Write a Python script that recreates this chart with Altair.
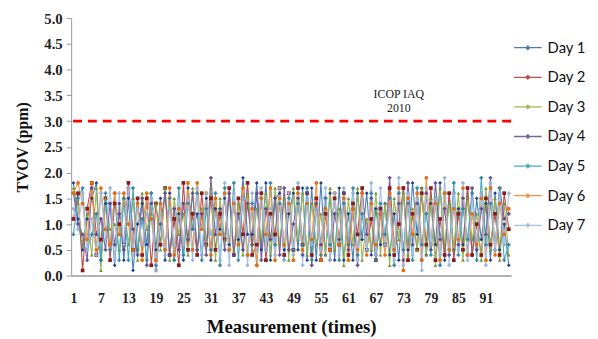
import altair as alt
import pandas as pd

days = ["Day 1", "Day 2", "Day 3", "Day 4", "Day 5", "Day 6", "Day 7"]

day1 = [1.8,1.1,0.5,1.1,1.5,1.8,0.3,1.4,1.4,0.2,1.4,0.3,
        1.5,0.1,1.0,1.4,0.6,1.6,0.5,1.5,0.3,1.6,0.3,1.2,
        0.3,1.7,0.9,1.2,0.4,1.5,0.3,1.3,0.9,1.5,0.6,1.4,
        0.7,1.9,0.8,0.8,1.8,0.5,1.8,0.3,1.5,1.6,0.5,1.2,
        1.6,0.5,1.7,0.3,1.7,0.3,1.8,0.4,1.6,0.3,1.7,0.3,
        1.2,0.3,1.6,0.7,1.6,0.4,1.3,0.6,1.4,0.4,1.2,0.3,
        1.7,0.5,1.8,0.8,1.7,0.4,1.4,0.6,1.8,0.3,1.6,0.5,
        1.3,0.6,1.7,0.4,1.5,0.7,1.4,0.3,1.6,0.5,1.0,0.2]
day2 = [1.1,1.6,0.1,1.3,1.8,0.4,0.7,1.5,0.3,1.4,1.0,0.6,
        1.8,0.5,1.5,0.4,1.5,0.2,1.4,0.6,1.7,0.4,1.1,0.2,
        1.8,0.5,1.2,0.4,1.6,0.6,1.5,0.5,1.2,0.7,1.7,0.4,
        1.5,0.8,1.8,0.4,0.6,1.6,0.3,1.2,0.8,1.7,0.4,1.6,
        0.5,1.7,0.6,1.6,0.4,1.5,0.3,1.2,0.5,1.5,0.6,1.6,
        0.4,1.4,0.8,1.7,0.5,1.1,0.3,1.3,0.6,1.7,0.4,1.0,
        1.7,0.3,1.2,0.5,1.6,0.6,1.7,0.3,1.1,0.4,1.6,0.3,
        1.2,0.5,1.7,0.4,1.0,0.4,1.5,0.6,1.2,0.4,1.6,0.9]
day3 = [1.7,1.4,0.6,1.2,0.4,1.7,0.1,1.5,0.9,1.0,0.5,1.5,
        0.6,1.5,0.3,1.6,0.9,1.2,1.4,0.5,1.7,0.3,1.5,0.8,
        1.2,0.4,1.7,0.5,1.3,0.6,1.7,0.3,1.5,0.7,1.6,0.5,
        1.4,0.4,1.6,0.5,1.3,0.7,1.6,0.4,1.7,0.6,1.5,0.3,
        1.7,0.7,1.6,0.4,1.4,0.6,1.2,0.4,1.7,0.5,1.3,0.2,
        1.5,0.6,1.7,0.3,1.1,0.5,1.6,0.4,1.4,0.2,1.5,0.7,
        1.6,0.4,1.3,0.5,1.7,0.4,1.5,0.2,1.7,0.6,1.4,0.5,
        1.6,0.3,1.5,0.7,1.2,0.3,1.7,0.5,1.5,0.3,1.4,0.4]
day4 = [1.6,1.0,0.8,0.3,1.7,0.8,1.1,0.5,1.4,0.6,1.2,0.5,
        1.7,0.9,0.4,1.5,0.2,1.4,0.1,1.0,1.6,0.4,1.3,0.5,
        1.4,0.7,1.6,0.5,1.2,0.4,1.9,0.8,1.3,0.5,1.6,0.4,
        1.2,0.5,1.4,0.6,1.6,0.3,1.3,0.7,1.5,0.4,1.7,0.5,
        1.0,1.5,0.4,1.6,0.2,1.4,0.6,1.5,0.3,1.2,0.7,1.6,
        0.5,1.3,0.2,1.6,0.8,1.5,0.4,1.2,0.6,1.9,0.5,1.4,
        0.3,1.8,0.6,1.4,0.3,1.6,0.5,1.8,0.7,1.3,0.4,1.6,
        0.6,1.5,0.4,1.7,0.5,1.3,0.8,1.9,0.5,1.7,1.1,1.2]
day5 = [0.8,1.5,1.7,0.5,0.8,1.2,0.3,1.6,0.5,1.6,0.3,1.5,
        0.3,1.7,0.5,1.1,0.3,1.6,0.2,1.0,0.5,1.5,0.3,1.7,
        0.4,1.4,0.9,1.6,0.3,1.3,0.5,1.6,0.2,1.7,0.5,1.8,
        0.3,1.5,0.4,1.4,0.2,1.5,0.5,1.8,0.6,1.4,0.3,1.5,
        0.5,1.4,0.6,1.7,0.3,1.3,0.4,1.5,0.6,1.6,0.3,1.4,
        0.6,1.7,0.4,1.2,0.5,1.6,0.3,1.4,0.8,1.5,0.2,1.6,
        0.5,1.4,0.3,1.7,0.6,1.2,0.4,1.5,0.2,1.6,0.5,1.8,
        0.4,1.3,0.7,1.6,0.3,1.9,0.6,1.4,0.5,1.7,0.3,0.6]
day6 = [1.6,1.8,1.4,0.7,1.8,0.5,1.7,0.9,0.6,1.6,0.8,1.6,
        1.0,0.5,1.4,0.3,1.6,1.1,0.3,1.4,0.5,1.7,0.4,1.3,
        0.6,1.8,0.5,1.8,0.9,1.6,0.4,1.5,0.8,1.6,0.5,1.4,
        0.6,1.7,0.4,1.3,0.2,1.5,0.8,1.7,0.3,1.5,0.6,1.4,
        0.3,1.6,0.5,1.4,0.7,1.8,0.3,1.3,0.5,1.6,0.6,1.5,
        0.3,1.3,0.5,1.6,0.4,1.4,0.6,1.2,0.4,1.6,0.5,1.7,
        0.1,1.5,0.8,1.6,0.3,1.9,0.6,1.4,0.3,1.6,0.5,1.3,
        0.7,1.7,0.4,1.2,0.6,1.5,0.3,1.7,0.4,1.4,0.8,1.3]
day7 = [1.3,0.9,1.6,0.5,1.1,0.4,1.6,0.7,1.7,0.3,1.6,0.6,
        1.7,0.4,1.3,0.6,1.2,1.5,0.1,1.2,0.4,1.3,0.6,1.5,
        0.6,1.5,0.3,1.7,0.4,1.6,0.8,1.2,0.3,1.8,0.2,1.6,
        0.8,1.5,0.2,1.6,0.5,1.7,0.5,1.3,0.4,1.7,0.3,1.6,
        0.4,1.8,0.2,1.5,0.6,1.3,0.5,1.7,0.3,1.6,0.4,1.7,
        0.8,1.6,0.3,1.5,0.5,1.8,0.4,1.7,0.6,1.3,0.3,1.9,
        0.2,1.6,0.4,1.5,0.1,1.7,0.6,1.5,0.4,1.9,0.2,1.6,
        0.5,1.8,0.3,1.5,0.7,1.6,0.2,1.8,0.5,1.6,0.6,1.6]

series = [day1, day2, day3, day4, day5, day6, day7]
x_ticks = [1, 7, 13, 19, 25, 31, 37, 43, 49, 55, 61, 67, 73, 79, 85, 91]
y_ticks = [0.0, 0.5, 1.0, 1.5, 2.0, 2.5, 3.0, 3.5, 4.0, 4.5, 5.0]
limit_value = 3.0
limit_label = "ICOP IAQ\n2010"
limit_label_pos = (72, 3.52)

line_colors = ["#4A7EBB", "#BE4B48", "#98B954", "#7D60A0", "#46AAC5", "#F69240", "#A7C2E6"]
marker_colors = ["#1F3C88", "#8B1A1A", "#77933C", "#5F4A8B", "#31859C", "#E46C0A", "#95B3D7"]
shapes = ["diamond", "square", "triangle-up", "cross", "cross", "circle", "cross"]

rows = []
for d, vals in zip(days, series):
    for i, v in enumerate(vals):
        rows.append({"day": d, "m": i + 1, "v": v})
df = pd.DataFrame(rows)

serif = "Liberation Serif"

x_enc = alt.X("m:Q", scale=alt.Scale(domain=[0.5, 96.5], nice=False, zero=False),
              axis=alt.Axis(values=x_ticks, tickCount=40, title="Measurement (times)", grid=False, ticks=False,
                            labelOverlap=False,
                            labelFont=serif, labelFontSize=14, labelFontWeight="bold", labelColor="#222",
                            labelPadding=16, domainColor="#999", domainWidth=1.5,
                            titleFont=serif, titleFontSize=19, titleFontWeight="bold", titleColor="#111",
                            titlePadding=13))
y_enc = alt.Y("v:Q", scale=alt.Scale(domain=[0, 5], nice=False),
              axis=alt.Axis(values=y_ticks, tickCount=40, format=".1f", title="TVOV (ppm)", grid=False,
                            labelOverlap=False,
                            labelFont=serif, labelFontSize=15, labelFontWeight="bold", labelColor="#222",
                            domainColor="#999", tickColor="#999", tickSize=5, labelPadding=4,
                            titleFont=serif, titleFontSize=16, titleFontWeight="bold", titleColor="#111",
                            titlePadding=13))

lines = alt.Chart(df).mark_line(strokeWidth=1.1).encode(
    x=x_enc, y=y_enc,
    color=alt.Color("day:N", scale=alt.Scale(domain=days, range=line_colors),
                    legend=alt.Legend(title=None, orient="none", legendX=448, legendY=15,
                                      symbolType="M-1,0H1M0,-0.13L0.13,0L0,0.13L-0.13,0Z",
                                      symbolSize=784, symbolStrokeWidth=1.3,
                                      labelFont="Lato", labelFontSize=15, labelColor="#111",
                                      labelOffset=5, rowPadding=7)),
    order=alt.Order("m:Q"),
)

points = alt.Chart(df).mark_point(filled=True, size=14, opacity=1).encode(
    x="m:Q", y="v:Q",
    fill=alt.Fill("day:N", scale=alt.Scale(domain=days, range=marker_colors), legend=None),
    shape=alt.Shape("day:N", scale=alt.Scale(domain=days, range=shapes), legend=None),
)

rule = alt.Chart(pd.DataFrame({"y": [limit_value]})).mark_rule(
    color="#FF0000", strokeWidth=3, strokeDash=[9, 6]).encode(y="y:Q")

label = alt.Chart(pd.DataFrame({"x": [limit_label_pos[0]], "y": [limit_label_pos[1]], "t": [limit_label]})).mark_text(
    font=serif, fontSize=12, color="#222", lineBreak="\n", align="center", baseline="middle", lineHeight=14
).encode(x="x:Q", y="y:Q", text="t:N")

chart = alt.layer(lines, points, rule, label).resolve_scale(color="independent").properties(
    width=446, height=261,
    autosize="none",
    padding={"left": 64, "top": 8, "right": 80, "bottom": 60},
).configure_view(stroke=None)

chart.save("out.html", embed_options={"renderer": "svg", "actions": False})
